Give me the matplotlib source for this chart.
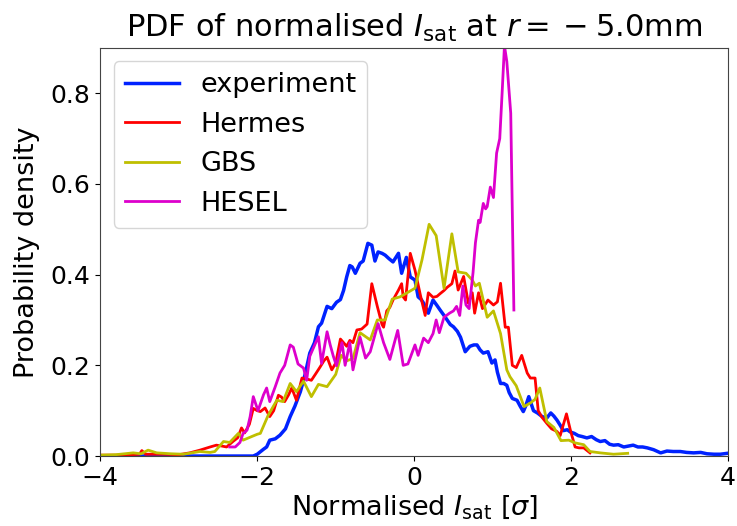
import matplotlib
matplotlib.use("Agg")
import matplotlib.pyplot as plt

# ---- data ----
exp_x = [-4.0, -2.05, -2.0, -1.92, -1.88, -1.84, -1.77, -1.71, -1.64, -1.58, -1.52, -1.45, -1.39, -1.33,
         -1.27, -1.22, -1.18, -1.11, -1.05, -0.99, -0.94, -0.9, -0.86, -0.82, -0.79, -0.75, -0.69, -0.65,
         -0.59, -0.54, -0.5, -0.46, -0.41, -0.37, -0.32, -0.27, -0.2, -0.16, -0.1, -0.05, 0.01, 0.05, 0.09,
         0.12, 0.18, 0.24, 0.29, 0.33, 0.38, 0.42, 0.46, 0.5, 0.55, 0.59, 0.65, 0.71, 0.76, 0.8, 0.84, 0.88,
         0.94, 0.99, 1.03, 1.06, 1.1, 1.14, 1.18, 1.21, 1.25, 1.31, 1.35, 1.39, 1.42, 1.46, 1.52, 1.57, 1.63,
         1.69, 1.74, 1.78, 1.82, 1.86, 1.9, 1.95, 1.99, 2.04, 2.09, 2.14, 2.2, 2.26, 2.32, 2.37, 2.43, 2.49,
         2.54, 2.6, 2.67, 2.73, 2.79, 2.85, 2.91, 2.97, 3.05, 3.14, 3.22, 3.3, 3.39, 3.47, 3.56, 3.65, 3.73,
         3.82, 3.9, 3.99]
exp_y = [0.0, 0.0, 0.004, 0.015, 0.02, 0.035, 0.038, 0.046, 0.06, 0.087, 0.11, 0.142, 0.18, 0.227,
         0.25, 0.285, 0.293, 0.33, 0.325, 0.339, 0.345, 0.365, 0.395, 0.42, 0.417, 0.403, 0.425, 0.43,
         0.469, 0.465, 0.43, 0.45, 0.447, 0.443, 0.435, 0.428, 0.447, 0.403, 0.438, 0.395, 0.388, 0.351, 0.345,
         0.337, 0.315, 0.344, 0.332, 0.322, 0.31, 0.30, 0.29, 0.285, 0.275, 0.262, 0.23, 0.242, 0.245, 0.245, 0.234, 0.227,
         0.23, 0.205, 0.212, 0.185, 0.16, 0.16, 0.156, 0.14, 0.127, 0.123, 0.11, 0.098, 0.11, 0.131, 0.1, 0.095, 0.087,
         0.084, 0.095, 0.088, 0.079, 0.068, 0.056, 0.058, 0.053, 0.05, 0.045, 0.043, 0.04, 0.043, 0.036, 0.032, 0.034, 0.026,
         0.024, 0.025, 0.02, 0.022, 0.024, 0.02, 0.02, 0.018, 0.014, 0.007, 0.011, 0.01, 0.01, 0.008, 0.007, 0.008, 0.005,
         0.004, 0.004, 0.006]

her_x = [-4.0, -3.8, -3.6, -3.5, -3.47, -3.42, -3.2, -3.0, -2.86, -2.73, -2.6, -2.52, -2.45, -2.39, -2.31,
         -2.25, -2.2, -2.16, -2.1, -2.05, -2.0, -1.96, -1.9, -1.84, -1.79, -1.73, -1.69, -1.65, -1.6, -1.56,
         -1.5, -1.43, -1.37, -1.31, -1.26, -1.2, -1.15, -1.11, -1.05, -1.0, -0.94, -0.86, -0.82, -0.78, -0.73,
         -0.67, -0.6, -0.54, -0.47, -0.41, -0.39, -0.35, -0.31, -0.27, -0.2, -0.16, -0.14, -0.11, -0.05, 0.01,
         0.08, 0.14, 0.18, 0.24, 0.29, 0.33, 0.38, 0.42, 0.48, 0.52, 0.56, 0.63, 0.69, 0.74, 0.77, 0.82, 0.87,
         0.94, 1.01, 1.06, 1.1, 1.16, 1.2, 1.25, 1.3, 1.37, 1.44, 1.48, 1.54, 1.58, 1.63, 1.69, 1.75, 1.82,
         1.86, 1.94, 1.99, 2.05, 2.1, 2.16, 2.24]
her_y = [0.002, 0.002, 0.003, 0.004, 0.012, 0.004, 0.004, 0.003, 0.007, 0.013, 0.02, 0.024, 0.022, 0.02, 0.032,
         0.04, 0.062, 0.051, 0.07, 0.105, 0.1, 0.098, 0.106, 0.087, 0.1, 0.134, 0.13, 0.12, 0.135, 0.15,
         0.123, 0.172, 0.17, 0.167, 0.18, 0.196, 0.21, 0.218, 0.19, 0.205, 0.258, 0.242, 0.255, 0.25, 0.278,
         0.28, 0.291, 0.38, 0.33, 0.29, 0.284, 0.32, 0.328, 0.344, 0.366, 0.38, 0.351, 0.344, 0.447, 0.41,
         0.354, 0.31, 0.36, 0.35, 0.352, 0.358, 0.365, 0.372, 0.38, 0.408, 0.366, 0.396, 0.337, 0.36, 0.315, 0.36, 0.325,
         0.344, 0.333, 0.34, 0.381, 0.284, 0.284, 0.2, 0.195, 0.222, 0.183, 0.172, 0.172, 0.1, 0.085, 0.072, 0.06, 0.054,
         0.045, 0.093, 0.057, 0.02, 0.018, 0.018, 0.007]

gbs_x = [-4.0, -3.8, -3.58, -3.48, -3.39, -3.28, -3.1, -2.94, -2.8, -2.73, -2.6, -2.54, -2.43, -2.35, -2.24,
         -2.18, -2.07, -2.0, -1.96, -1.86, -1.75, -1.67, -1.58, -1.5, -1.41, -1.31, -1.22, -1.11, -1.0, -0.93,
         -0.86, -0.78, -0.69, -0.56, -0.47, -0.37, -0.28, -0.18, -0.09, 0.01, 0.1, 0.19, 0.28, 0.38, 0.48, 0.56,
         0.66, 0.74, 0.78, 0.83, 0.93, 1.01, 1.1, 1.18, 1.22, 1.3, 1.4, 1.48, 1.54, 1.6, 1.69, 1.78, 1.87, 1.97,
         2.05, 2.16, 2.24, 2.37, 2.54, 2.72]
gbs_y = [0.002, 0.003, 0.007, 0.005, 0.013, 0.007, 0.005, 0.004, 0.008, 0.01, 0.008, 0.01, 0.032, 0.03, 0.05,
         0.035, 0.043, 0.048, 0.05, 0.09, 0.123, 0.12, 0.16, 0.142, 0.165, 0.131, 0.158, 0.153, 0.18, 0.222,
         0.21, 0.215, 0.272, 0.256, 0.3, 0.3, 0.346, 0.351, 0.36, 0.37, 0.433, 0.511, 0.486, 0.37, 0.49, 0.406,
         0.403, 0.388, 0.375, 0.381, 0.306, 0.32, 0.27, 0.19, 0.175, 0.155, 0.109, 0.117, 0.125, 0.15, 0.076, 0.063, 0.034, 0.035,
         0.029, 0.025, 0.01, 0.007, 0.004, 0.006]

hes_x = [-2.35, -2.28, -2.22, -2.18, -2.13, -2.09, -2.05, -1.99, -1.92, -1.88, -1.84, -1.77, -1.71, -1.65,
         -1.58, -1.54, -1.48, -1.41, -1.37, -1.33, -1.26, -1.22, -1.18, -1.11, -1.07, -1.03, -0.99, -0.92, -0.88,
         -0.82, -0.78, -0.69, -0.62, -0.56, -0.46, -0.39, -0.31, -0.21, -0.14, -0.08, 0.01, 0.05, 0.12, 0.18,
         0.24, 0.28, 0.32, 0.38, 0.45, 0.5, 0.54, 0.58, 0.62, 0.66, 0.7, 0.75, 0.78, 0.82, 0.84, 0.88, 0.91,
         0.93, 0.97, 1.01, 1.05, 1.09, 1.12, 1.15, 1.18, 1.23, 1.27]
hes_y = [0.02, 0.02, 0.03, 0.05, 0.057, 0.087, 0.131, 0.1, 0.135, 0.15, 0.12, 0.153, 0.183, 0.2,
         0.245, 0.24, 0.203, 0.194, 0.167, 0.22, 0.248, 0.263, 0.204, 0.274, 0.245, 0.22, 0.199, 0.25, 0.2,
         0.25, 0.19, 0.262, 0.216, 0.23, 0.292, 0.25, 0.213, 0.277, 0.2, 0.203, 0.245, 0.222, 0.26, 0.25,
         0.27, 0.3, 0.272, 0.306, 0.315, 0.32, 0.33, 0.31, 0.375, 0.333, 0.325, 0.405, 0.47, 0.52, 0.515, 0.557, 0.545,
         0.55, 0.593, 0.57, 0.668, 0.70, 0.8, 0.905, 0.87, 0.756, 0.322]

labels = ["experiment", "Hermes", "GBS", "HESEL"]
colors = ["#0022ff", "#ff0000", "#bfbf00", "#dd00cc"]
xticks = [-4, -2, 0, 2, 4]
yticks = [0.0, 0.2, 0.4, 0.6, 0.8]

fig = plt.figure(figsize=(7.37, 5.26), dpi=100)
ax = fig.add_axes([0.136, 0.133, 0.852, 0.776])

series = [(exp_x, exp_y), (her_x, her_y), (gbs_x, gbs_y), (hes_x, hes_y)]
widths = [2.5, 2.0, 2.0, 2.0]
for (xs, ys), lab, c, lw in zip(series, labels, colors, widths):
    ax.plot(xs, ys, color=c, lw=lw, label=lab)

ax.set_xlim(-4, 4)
ax.set_ylim(0, 0.9)
ax.set_xticks(xticks)
ax.set_yticks(yticks)
ax.tick_params(labelsize=18)
for s in ax.spines.values():
    s.set_color("#444444")
ax.set_xlabel(r"Normalised $I_{\rm sat}$ [$\sigma$]", fontsize=19.5, labelpad=2)
ax.set_ylabel("Probability density", fontsize=19.5, labelpad=8)
ax.set_title(r"PDF of normalised $I_{\rm sat}$ at $r = \:-\:5.0$mm", fontsize=22, pad=8)
ax.legend(loc="upper left", fontsize=19.5, borderaxespad=0.5)

fig.savefig("out.png", dpi=100)
